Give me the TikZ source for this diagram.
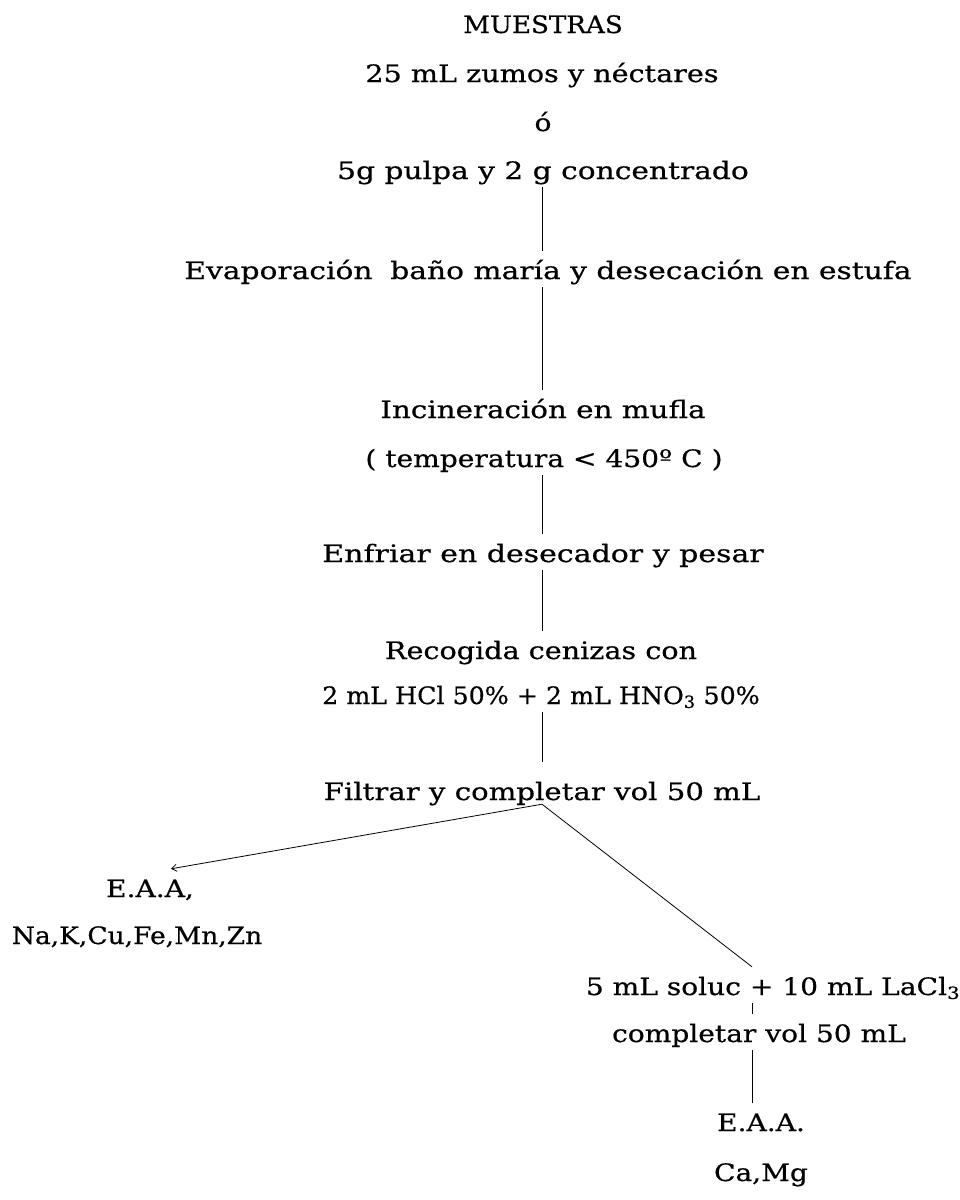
\documentclass[tikz,border=0pt]{standalone}
\usepackage{graphicx}
\usepackage{fontspec}
\setmainfont{DejaVu Serif}[FakeStretch=1.17,FakeBold=0.5]
\usetikzlibrary{arrows.meta}
\newcommand{\sx}[2]{\scalebox{#1}[1]{#2}}
\begin{document}
\begin{tikzpicture}[x=1pt,y=-1pt,
  txt/.style={anchor=base, inner sep=0pt, text height=28pt, text depth=8pt, font=\fontsize{24}{28}\selectfont},
  conn/.style={line width=0.8pt, black}]
\fill[white] (0,0) rectangle (959,1200);
\useasboundingbox (0,0) rectangle (959,1200);
\coordinate (stem) at (542,0);
\coordinate (rstem) at (752,0);
\node[txt] (mue) at (543,33) {\sx{0.93}{MUESTRAS}};
\node[txt] (zum) at (542,82) {\sx{1.02}{25 mL zumos y néctares}};
\node[txt] (o) at (543,131) {ó};
\node[txt] (pul) at (543,179) {\sx{1.057}{5g pulpa y 2 g concentrado}};
\node[txt] (eva) at (548,279) {\sx{1.058}{Evaporación\hspace{0.7em}baño maría y desecación en estufa}};
\node[txt] (inc) at (543,418) {\sx{1.045}{Incineración en mufla}};
\node[txt] (tem) at (544,467) {( temperatura < 450º C )};
\node[txt] (enf) at (543,562) {\sx{1.068}{Enfriar en desecador y pesar}};
\node[txt] (rec) at (541,659) {\sx{1.02}{Recogida cenizas con}};
\node[txt] (hcl) at (541,704) {\sx{0.9}{2 mL HCl 50\% + 2 mL HNO\textsubscript{3} 50\%}};
\node[txt] (fil) at (542,800) {\sx{1.04}{Filtrar y completar vol 50 mL}};
\node[txt] (eal) at (150,897) {E.A.A,};
\node[txt] (nak) at (137,944) {\sx{0.943}{Na,K,Cu,Fe,Mn,Zn}};
\node[txt] (sol) at (773,995) {5 mL soluc + 10 mL LaCl\textsubscript{3}};
\node[txt] (com) at (759,1042) {completar vol 50 mL};
\node[txt] (ear) at (761,1131) {E.A.A.};
\node[txt] (cam) at (761,1181) {Ca,Mg};
\draw[conn] (pul.south -| stem) -- (eva.north -| stem);
\draw[conn] (eva.south -| stem) -- (inc.north -| stem);
\draw[conn] (tem.south -| stem) -- (enf.north -| stem);
\draw[conn] (enf.south -| stem) -- (rec.north -| stem);
\draw[conn, shorten >=10pt] (hcl.south -| stem) -- (fil.north -| stem);
\path (fil.south -| stem) coordinate (j0);
\coordinate (j) at ([yshift=4pt]j0);
\draw[conn, -{Straight Barb[length=5pt,width=7pt]}] (j) -- ([xshift=21pt]eal.north);
\draw[conn] (j) -- (sol.north -| rstem);
\draw[conn] (sol.south -| rstem) -- (com.north -| rstem);
\draw[conn] (com.south -| rstem) -- (ear.north -| rstem);
\end{tikzpicture}
\end{document}
